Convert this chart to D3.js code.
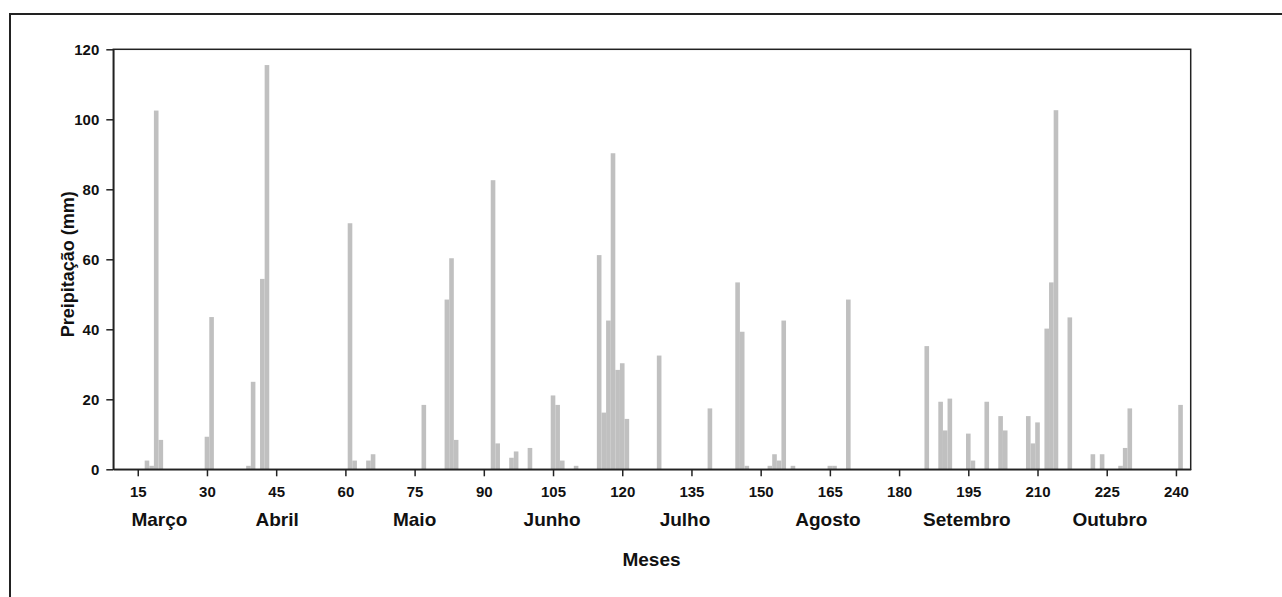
<!DOCTYPE html>
<html>
<head>
<meta charset="utf-8">
<script src="https://cdn.jsdelivr.net/npm/d3@7"></script>
<style>
  html, body { margin: 0; padding: 0; background: #fff; }
  svg { display: block; }
  text { font-family: "Liberation Sans", Arial, sans-serif; font-weight: bold; fill: #111; }
</style>
</head>
<body>
<svg id="chart" width="1282" height="597"></svg>
<script>
// Day of the season (x) and precipitation in mm (y)
const days = [17,18,19,20,30,31,39,40,42,43,61,62,65,66,77,82,83,84,92,93,96,97,100,105,106,107,110,115,116,117,118,119,120,121,128,139,145,146,147,152,153,154,155,157,165,166,169,186,189,190,191,195,196,199,202,203,208,209,210,212,213,214,217,222,224,228,229,230,241];
const precip = [2.5,1,102.5,8.4,9.3,43.5,1,25,54.4,115.5,70.3,2.5,2.5,4.3,18.4,48.5,60.3,8.4,82.6,7.4,3.3,5.1,6.1,21.1,18.4,2.5,1,61.2,16.2,42.5,90.3,28.4,30.3,14.4,32.5,17.4,53.4,39.3,1,1,4.3,2.5,42.5,1,1,1,48.5,35.2,19.3,11.1,20.2,10.2,2.5,19.3,15.2,11.1,15.2,7.4,13.4,40.2,53.4,102.6,43.4,4.3,4.3,1,6.1,17.4,18.4];
const xTicks = [15,30,45,60,75,90,105,120,135,150,165,180,195,210,225,240];
const yTicks = [0,20,40,60,80,100,120];
const months = ["Março","Abril","Maio","Junho","Julho","Agosto","Setembro","Outubro"];
const monthPos = [19.7,45.2,75,104.8,133.6,164.6,194.7,225.7];

const svg = d3.select("#chart");
const pL = 113.3, pR = 1190.7, pT = 49.3, pB = 469.3;

const x = d3.scaleLinear().domain([9.7, 243.2]).range([pL, pR]);
const y = d3.scaleLinear().domain([0, 120]).range([pB, pT]);

// outer frame (top and left)
svg.append("path")
  .attr("d", `M10,597 V14 H1282`)
  .attr("fill", "none").attr("stroke", "#222").attr("stroke-width", 2);

// bars
const data = days.map((d, i) => ({ day: d, v: precip[i] }));
svg.append("g").selectAll("rect").data(data).join("rect")
  .attr("x", d => x(d.day - 0.5))
  .attr("width", d => x(d.day + 0.5) - x(d.day - 0.5))
  .attr("y", d => y(d.v))
  .attr("height", d => y(0) - y(d.v))
  .attr("fill", "#c0c0c0");

// plot frame
svg.append("rect")
  .attr("x", pL).attr("y", pT)
  .attr("width", pR - pL).attr("height", pB - pT)
  .attr("fill", "none").attr("stroke", "#222").attr("stroke-width", 1.5);

// x axis
const gx = svg.append("g").attr("transform", `translate(0,${pB})`)
  .call(d3.axisBottom(x).tickValues(xTicks).tickSize(7).tickPadding(10).tickSizeOuter(0));
gx.select(".domain").attr("stroke", "#222").attr("stroke-width", 1.5);
gx.selectAll(".tick line").attr("stroke", "#222").attr("stroke-width", 1.5);
gx.selectAll(".tick text").style("font-size", "15px").attr("font-family", null).attr("fill", "#111");

// y axis
const gy = svg.append("g").attr("transform", `translate(${pL},0)`)
  .call(d3.axisLeft(y).tickValues(yTicks).tickSize(7).tickPadding(7).tickSizeOuter(0));
gy.select(".domain").attr("stroke", "#222").attr("stroke-width", 1.5);
gy.selectAll(".tick line").attr("stroke", "#222").attr("stroke-width", 1.5);
gy.selectAll(".tick text").style("font-size", "15px").attr("font-family", null).attr("fill", "#111");

// month labels
svg.append("g").selectAll("text").data(months).join("text")
  .attr("x", (d, i) => x(monthPos[i]))
  .attr("y", 526)
  .attr("text-anchor", "middle")
  .style("font-size", "19px")
  .text(d => d);

// axis titles
svg.append("text")
  .attr("x", (pL + pR) / 2 - 0.5).attr("y", 566)
  .attr("text-anchor", "middle")
  .style("font-size", "19px")
  .text("Meses");

svg.append("text")
  .attr("transform", `translate(74,${(pT + pB) / 2 + 5}) rotate(-90)`)
  .attr("text-anchor", "middle")
  .style("font-size", "18px")
  .text("Preipitação (mm)");
</script>
</body>
</html>
